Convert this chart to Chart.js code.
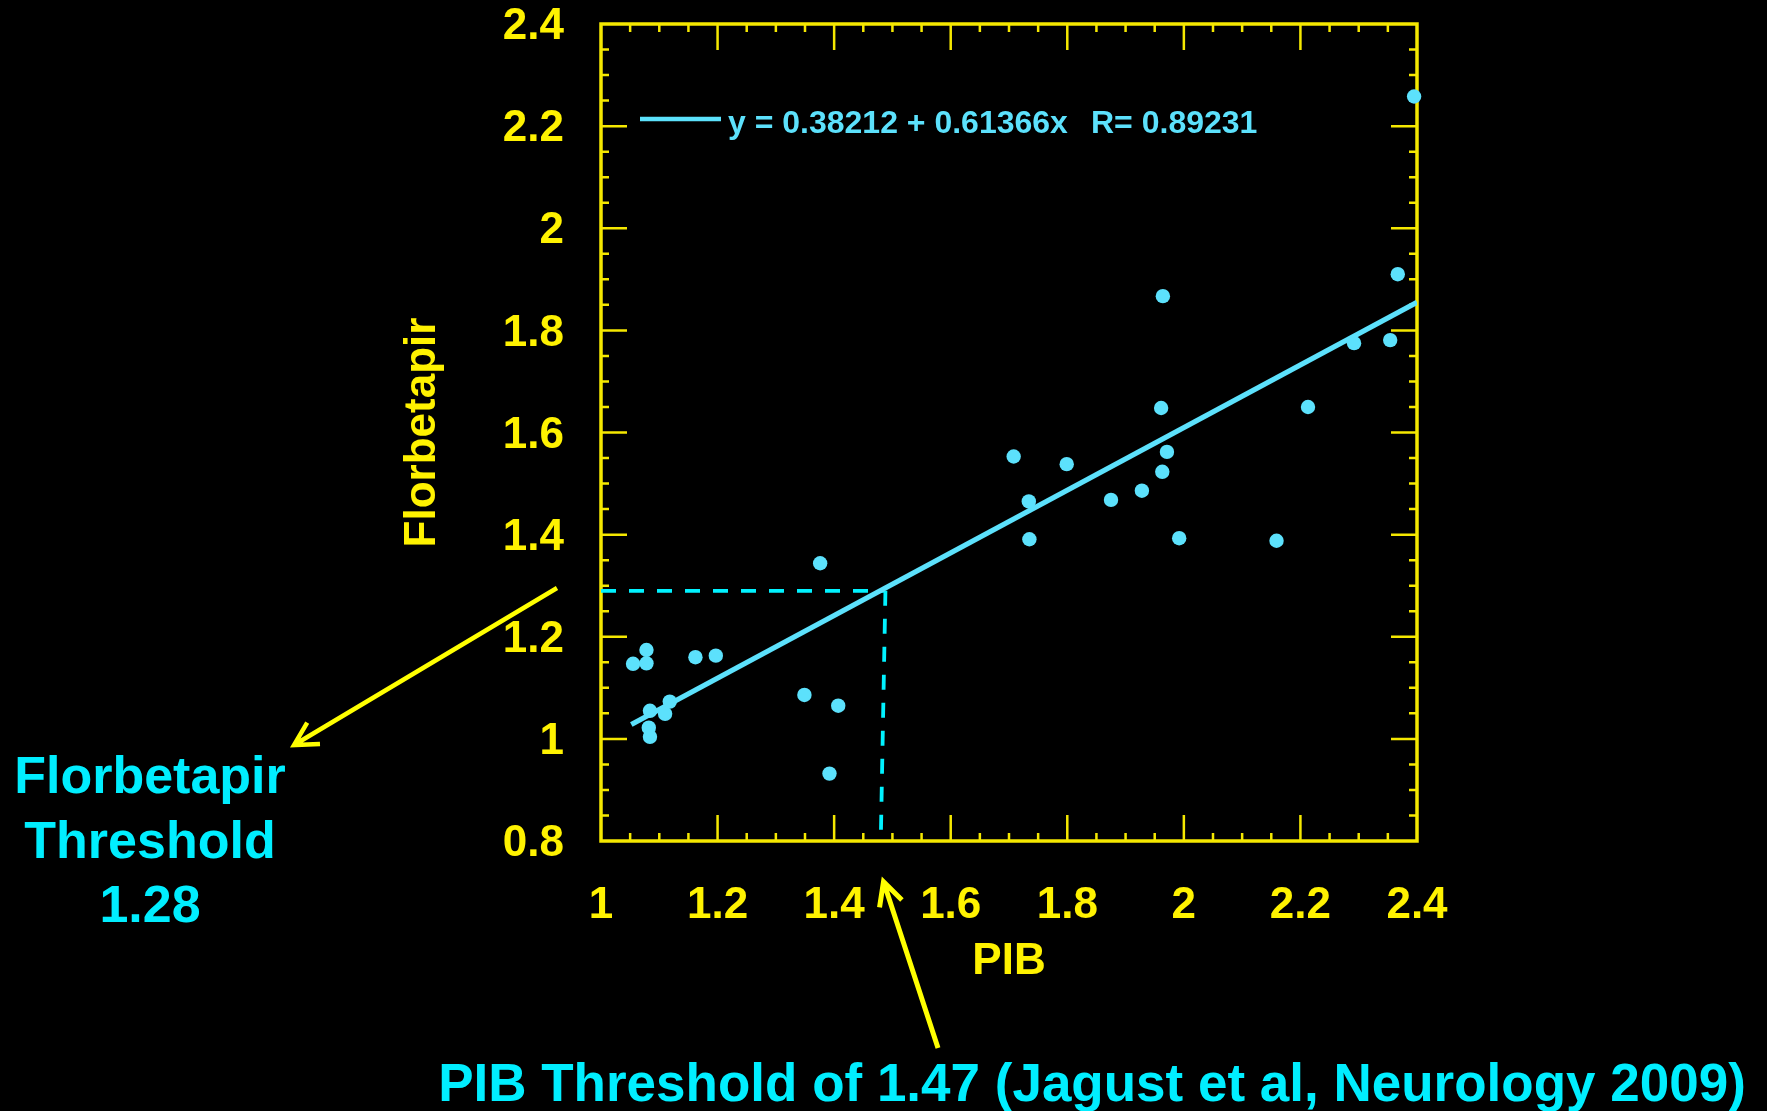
<!DOCTYPE html>
<html>
<head>
<meta charset="utf-8">
<script src="https://cdn.jsdelivr.net/npm/chart.js@4.4.1/dist/chart.umd.min.js"></script>
<style>
  html, body { margin: 0; padding: 0; background: #000; }
  #wrap { width: 1767px; height: 1111px; position: relative; background: #000; }
</style>
</head>
<body>
<div id="wrap"><canvas id="c" width="1767" height="1111"></canvas></div>
<script>
// ---------------- data ----------------
const pib = [
  2.395, 2.367, 1.964, 2.292, 2.354, 1.961, 2.213, 1.708, 1.799, 1.971, 1.963,
  1.928, 1.875, 1.734, 1.735, 1.992, 2.159, 1.376,
  1.078, 1.055, 1.078, 1.162, 1.197, 1.118, 1.084, 1.110, 1.082, 1.084,
  1.349, 1.407, 1.392
];
const florbetapir = [
  2.258, 1.910, 1.867, 1.775, 1.781, 1.648, 1.650, 1.553, 1.538, 1.562, 1.523,
  1.486, 1.468, 1.465, 1.391, 1.393, 1.388, 1.344,
  1.174, 1.147, 1.148, 1.160, 1.163, 1.073, 1.055, 1.049, 1.022, 1.004,
  1.086, 1.065, 0.932
];
const fitX = [1.052, 2.4];
const fitY = [1.028, 1.855];
const hThreshX = [1.0, 1.487];
const hThreshY = [1.29, 1.29];
const vThreshX = [1.488, 1.480];
const vThreshY = [1.29, 0.8];
const xTickLabels = ['1', '1.2', '1.4', '1.6', '1.8', '2', '2.2', '2.4'];
const yTickLabels = ['0.8', '1', '1.2', '1.4', '1.6', '1.8', '2', '2.2', '2.4'];
const fitLabel = 'y = 0.38212 + 0.61366x';
const rLabel = 'R= 0.89231';
const xTitle = 'PIB';
const yTitle = 'Florbetapir';
const leftNote = ['Florbetapir', 'Threshold', '1.28'];
const bottomNote = 'PIB Threshold of 1.47 (Jagust et al, Neurology 2009)';

// ---------------- styles ----------------
const FONT = '"Liberation Sans", Arial, Helvetica, sans-serif';
const YELLOW = '#fff200';
const AXIS_YELLOW = '#f5e800';
const POINT_BLUE = '#5ce1fc';
const DASH_CYAN = '#00f2ff';
const NOTE_CYAN = '#00eeff';
const MINOR_STEP = 0.05;

const toXY = (xs, ys) => xs.map((v, i) => ({ x: v, y: ys[i] }));

const framePlugin = {
  id: 'frameTicks',
  beforeDatasetsDraw(chart) {
    const { ctx, chartArea: a, scales: { x, y } } = chart;
    ctx.save();
    ctx.strokeStyle = AXIS_YELLOW;
    ctx.lineWidth = 2.5;
    const MAJ = 26, MIN = 8;
    const nx = Math.round((x.max - x.min) / MINOR_STEP);
    ctx.beginPath();
    for (let i = 1; i < nx; i++) {
      const px = x.getPixelForValue(x.min + i * MINOR_STEP);
      const len = i % 4 === 0 ? MAJ : MIN;
      ctx.moveTo(px, a.bottom); ctx.lineTo(px, a.bottom - len);
      ctx.moveTo(px, a.top); ctx.lineTo(px, a.top + len);
    }
    const ny = Math.round((y.max - y.min) / MINOR_STEP);
    for (let i = 1; i < ny; i++) {
      const py = y.getPixelForValue(y.min + i * MINOR_STEP);
      const len = i % 4 === 0 ? MAJ : MIN;
      ctx.moveTo(a.left, py); ctx.lineTo(a.left + len, py);
      ctx.moveTo(a.right, py); ctx.lineTo(a.right - len, py);
    }
    ctx.stroke();
    ctx.lineWidth = 3.5;
    ctx.strokeRect(a.left, a.top, a.right - a.left, a.bottom - a.top);
    ctx.restore();
  }
};

function arrow(ctx, x1, y1, x2, y2, head, ang, w, color) {
  ctx.save();
  ctx.strokeStyle = color;
  ctx.lineWidth = w;
  ctx.lineCap = 'butt';
  ctx.beginPath();
  ctx.moveTo(x1, y1); ctx.lineTo(x2, y2);
  const t = Math.atan2(y1 - y2, x1 - x2);
  ctx.moveTo(x2 + head * Math.cos(t + ang), y2 + head * Math.sin(t + ang));
  ctx.lineTo(x2, y2);
  ctx.lineTo(x2 + head * Math.cos(t - ang), y2 + head * Math.sin(t - ang));
  ctx.stroke();
  ctx.restore();
}

const notesPlugin = {
  id: 'notes',
  afterDraw(chart) {
    const { ctx, scales: { x, y } } = chart;
    const fitDs = chart.data.datasets[1];
    ctx.save();
    // legend entry inside the plot
    ctx.strokeStyle = fitDs.borderColor;
    ctx.lineWidth = 4.7;
    ctx.beginPath(); ctx.moveTo(640, 119); ctx.lineTo(721, 119); ctx.stroke();
    ctx.fillStyle = fitDs.borderColor;
    ctx.font = 'bold 32px ' + FONT;
    ctx.textAlign = 'left';
    ctx.textBaseline = 'alphabetic';
    ctx.fillText(fitLabel, 728, 132.5);
    ctx.fillText(rLabel, 1091, 132.5);

    // arrows (anchored through the scales)
    arrow(ctx, x.getPixelForValue(0.9245), y.getPixelForValue(1.2955),
               x.getPixelForValue(0.4733), y.getPixelForValue(0.988), 26, 0.5, 4.5, '#ffff00');
    arrow(ctx, x.getPixelForValue(1.5782), y.getPixelForValue(0.3946),
               x.getPixelForValue(1.4847), y.getPixelForValue(0.7203), 26, 0.47, 5, '#ffff00');

    // notes
    ctx.fillStyle = NOTE_CYAN;
    ctx.font = 'bold 52px ' + FONT;
    ctx.textAlign = 'center';
    ctx.fillText(leftNote[0], 150, 793);
    ctx.fillText(leftNote[1], 150, 858);
    ctx.fillText(leftNote[2], 150, 922);
    ctx.font = 'bold 53px ' + FONT;
    ctx.fillText(bottomNote, 1092, 1101);
    ctx.restore();
  }
};

function noEdgePadding(s) {
  s.paddingTop = 0; s.paddingBottom = 0; s.paddingLeft = 0; s.paddingRight = 0;
}

new Chart(document.getElementById('c'), {
  type: 'scatter',
  data: {
    datasets: [
      {
        label: 'data',
        data: toXY(pib, florbetapir),
        pointRadius: 7.2,
        pointHoverRadius: 7.2,
        backgroundColor: POINT_BLUE,
        borderWidth: 0,
        clip: false
      },
      {
        label: fitLabel,
        data: toXY(fitX, fitY),
        showLine: true,
        borderColor: POINT_BLUE,
        borderWidth: 5.2,
        pointRadius: 0,
        pointHoverRadius: 0
      },
      {
        label: 'PIB threshold',
        data: toXY(hThreshX, hThreshY),
        showLine: true,
        borderColor: DASH_CYAN,
        borderWidth: 3.8,
        borderDash: [15, 13],
        pointRadius: 0
      },
      {
        label: 'Florbetapir threshold',
        data: toXY(vThreshX, vThreshY),
        showLine: true,
        borderColor: DASH_CYAN,
        borderWidth: 3.8,
        borderDash: [15, 13],
        pointRadius: 0
      }
    ]
  },
  options: {
    responsive: false,
    devicePixelRatio: 1,
    animation: false,
    events: [],
    layout: { padding: { left: 396, top: 24, right: 350, bottom: 123 } },
    plugins: { legend: { display: false }, tooltip: { enabled: false } },
    scales: {
      x: {
        type: 'linear',
        min: 1, max: 2.4,
        afterFit(s) { s.height = 147; noEdgePadding(s); },
        grid: { display: false, drawTicks: false },
        border: { display: false },
        ticks: {
          stepSize: 0.2,
          autoSkip: false,
          maxRotation: 0,
          padding: 38,
          color: YELLOW,
          font: { family: FONT, size: 44, weight: 'bold' },
          callback: (v, i) => xTickLabels[i]
        },
        title: {
          display: true, text: xTitle, color: YELLOW, padding: 0,
          font: { family: FONT, size: 44, weight: 'bold' }
        }
      },
      y: {
        type: 'linear',
        min: 0.8, max: 2.4,
        afterFit(s) { s.width = 205; noEdgePadding(s); },
        grid: { display: false, drawTicks: false },
        border: { display: false },
        ticks: {
          stepSize: 0.2,
          autoSkip: false,
          padding: 37,
          labelOffset: 3,
          color: YELLOW,
          font: { family: FONT, size: 44, weight: 'bold' },
          callback: (v, i) => yTickLabels[i]
        },
        title: {
          display: true, text: yTitle, color: YELLOW, padding: 0,
          font: { family: FONT, size: 44, weight: 'bold' }
        }
      }
    }
  },
  plugins: [framePlugin, notesPlugin]
});
</script>
</body>
</html>
